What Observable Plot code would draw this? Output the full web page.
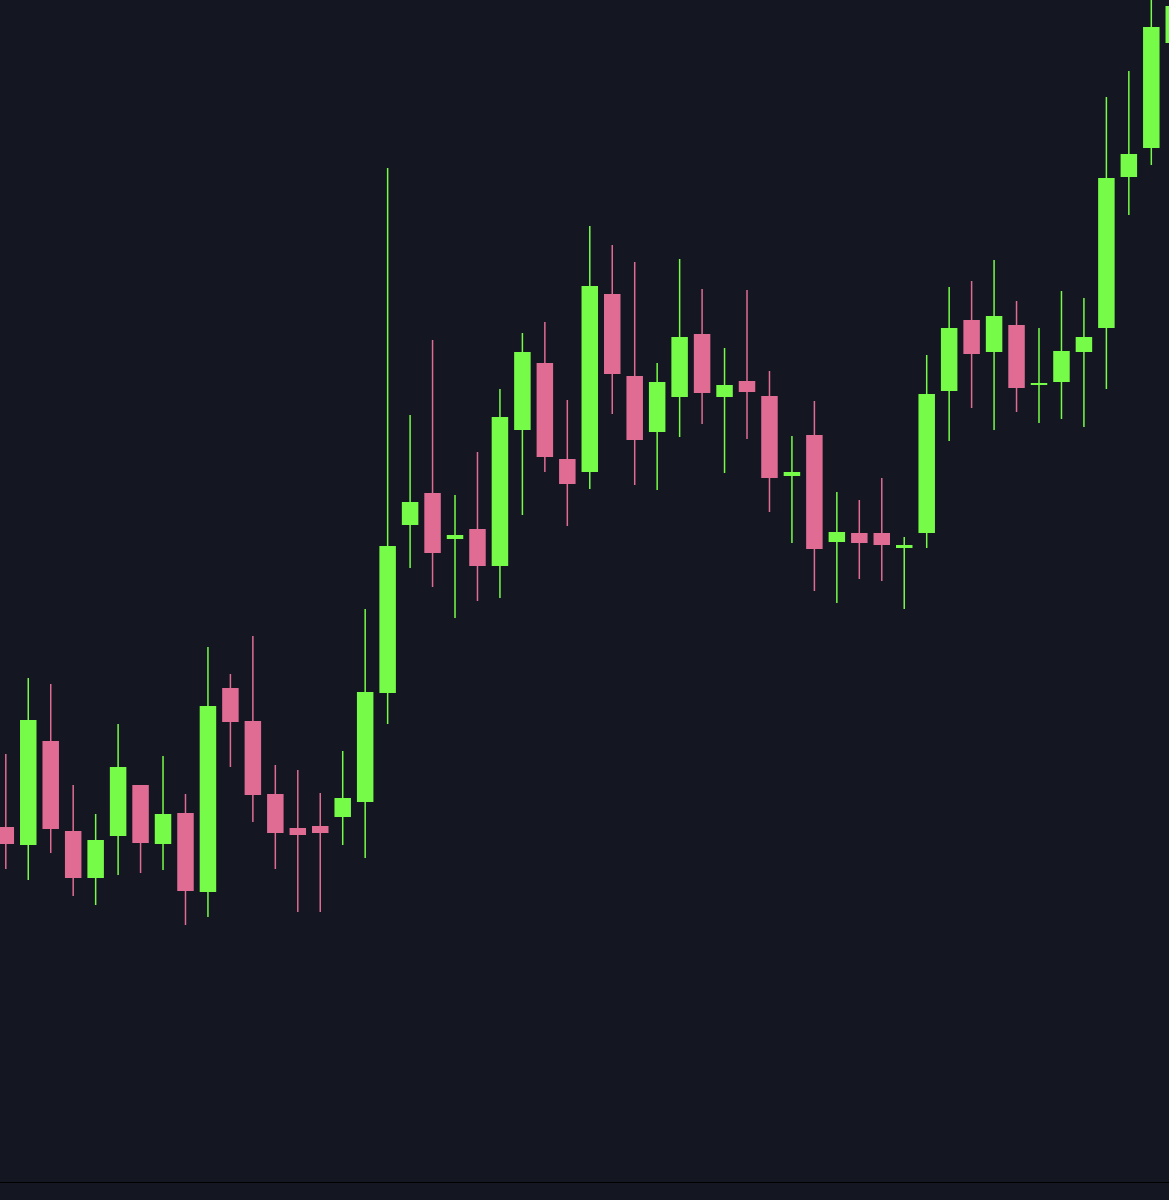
<!DOCTYPE html>
<html>
<head>
<meta charset="utf-8">
<script src="https://cdn.jsdelivr.net/npm/d3@7"></script>
<script src="https://cdn.jsdelivr.net/npm/@observablehq/plot@0.6"></script>
<style>
  html, body { margin: 0; padding: 0; background: #141621; overflow: hidden; }
  #chart svg { display: block; }
</style>
</head>
<body>
<div id="chart"></div>
<script>
// Candle index (session number)
const sessions = d3.range(53);
// OHLC prices per session
const opens  = [373,355,459,369,322,364,415,356,387,308,512,479,406,372,374,383,398,507,675,707,661,671,634,770,837,741,728,906,824,768,803,866,803,819,804,724,765,658,667,667,652,667,809,880,848,875,815,818,848,872,1023,1052,1157];
const highs  = [446,522,516,415,386,476,415,444,406,553,526,564,435,430,407,449,591,1032,785,860,705,748,811,867,878,800,974,955,938,837,941,911,852,910,829,764,799,708,700,722,663,845,913,919,940,899,872,909,902,1103,1129,1205,1210];
const lows   = [331,320,347,304,295,325,327,330,275,283,433,378,331,288,288,355,342,476,632,613,582,599,602,685,728,674,711,786,715,710,763,776,727,761,688,657,609,597,621,619,591,652,759,792,770,788,777,781,773,811,985,1035,1140];
const closes = [356,480,371,322,360,433,357,386,309,494,478,405,367,365,367,402,508,654,698,647,665,634,783,848,743,716,914,826,760,818,863,807,815,808,722,728,651,668,657,655,655,806,872,846,884,812,817,849,863,1022,1046,1173,1194];

const upColor = "#76fc48";
const downColor = "#e06c94";

const data = sessions.map(i => ({
  i, open: opens[i], high: highs[i], low: lows[i], close: closes[i],
  color: closes[i] >= opens[i] ? upColor : downColor
}));

const chart = Plot.plot({
  width: 1169,
  height: 1200,
  marginTop: 0,
  marginRight: 0,
  marginBottom: 18,
  marginLeft: 0,
  style: { background: "#141621" },
  x: { type: "linear", domain: [-0.236, 51.81], axis: null },
  y: { domain: [18, 1200], axis: null },
  marks: [
    Plot.ruleX(data, { x: "i", y1: "low", y2: "high", stroke: "color", strokeWidth: 1.5 }),
    Plot.ruleX(data, { x: "i", y1: "open", y2: "close", stroke: "color", strokeWidth: 16.5 }),
    Plot.frame({ anchor: "bottom", stroke: "#000000", strokeWidth: 1 })
  ]
});
document.getElementById("chart").append(chart);
</script>
</body>
</html>
